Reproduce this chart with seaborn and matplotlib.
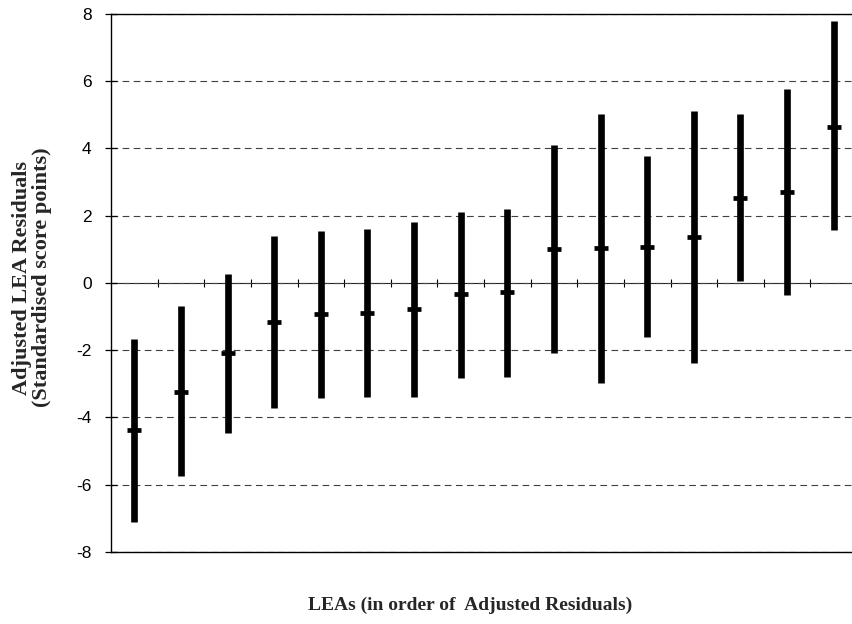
import numpy as np
import pandas as pd
import matplotlib
matplotlib.use("Agg")
import matplotlib.pyplot as plt
import seaborn as sns

# ---- data ----
leas = [str(i) for i in range(1, 17)]
estimate = [-4.37, -3.23, -2.09, -1.15, -0.93, -0.90, -0.78, -0.34,
            -0.28, 1.00, 1.03, 1.08, 1.38, 2.54, 2.71, 4.65]
lower = [-7.10, -5.74, -4.45, -3.71, -3.43, -3.40, -3.40, -2.82,
         -2.79, -2.09, -2.96, -1.62, -2.37, 0.05, -0.35, 1.58]
upper = [-1.68, -0.68, 0.26, 1.41, 1.55, 1.60, 1.81, 2.10,
         2.20, 4.09, 5.02, 3.78, 5.12, 5.02, 5.76, 7.78]
y_ticks = [-8, -6, -4, -2, 0, 2, 4, 6, 8]
y_label = "Adjusted LEA Residuals\n(Standardised score points)"
x_label = "LEAs (in order of  Adjusted Residuals)"

# long-form table: lower / estimate / upper per LEA
df = pd.DataFrame({
    "lea": leas * 3,
    "value": lower + estimate + upper,
})

sns.set_style("ticks")
plt.rcParams["font.family"] = ["Liberation Sans", "DejaVu Sans"]

fig = plt.figure(figsize=(8.52, 6.24), dpi=100)
ax = fig.add_axes([0.1303, 0.1154, 0.8756, 0.8622])

sns.pointplot(
    data=df, x="lea", y="value", order=leas,
    estimator="median", errorbar=("pi", 100),
    linestyle="none", marker="_", markersize=10, markeredgewidth=3.4,
    color="black", err_kws={"linewidth": 4.8, "solid_capstyle": "butt"},
    ax=ax,
)

ax.set_xlim(-0.5, len(leas) - 0.5)
ax.set_ylim(-8, 8)
ax.set_yticks(y_ticks)
ax.set_yticklabels([str(t) for t in y_ticks])
ax.tick_params(axis="y", direction="inout", length=8, width=0.9,
               labelsize=12.5, pad=10, colors="black")
ax.set_xticks([])
ax.tick_params(axis="x", bottom=False, labelbottom=False)

# dashed gridlines
ax.yaxis.grid(True, linestyle=(0, (6, 4)), color="0.25", linewidth=0.8)
ax.set_axisbelow(True)

for side in ["left", "top", "bottom", "right"]:
    ax.spines[side].set_visible(True)
    ax.spines[side].set_color("black")
    ax.spines[side].set_linewidth(1.0)

# zero line with category boundary ticks
sec = ax.secondary_xaxis(0.5)
sec.set_xticks(np.arange(0.5, len(leas) - 1, 1.0))
sec.tick_params(axis="x", direction="inout", length=6, width=0.8,
                labelbottom=False, labeltop=False, colors="black")
sec.spines["bottom"].set_linewidth(1.0)
sec.spines["bottom"].set_color("black")

ax.set_ylabel(y_label, family=["Liberation Serif", "DejaVu Serif"],
              fontweight="bold", fontsize=16, linespacing=1.0)
ax.yaxis.set_label_coords(-0.106, 0.51)
ax.yaxis.label.set_verticalalignment("center")

ax.set_xlabel(x_label, family=["Liberation Serif", "DejaVu Serif"],
              fontweight="bold", fontsize=14)
ax.xaxis.set_label_coords(0.481, -0.10)
ax.xaxis.label.set_verticalalignment("center")

fig.savefig("out.png", dpi=100)
